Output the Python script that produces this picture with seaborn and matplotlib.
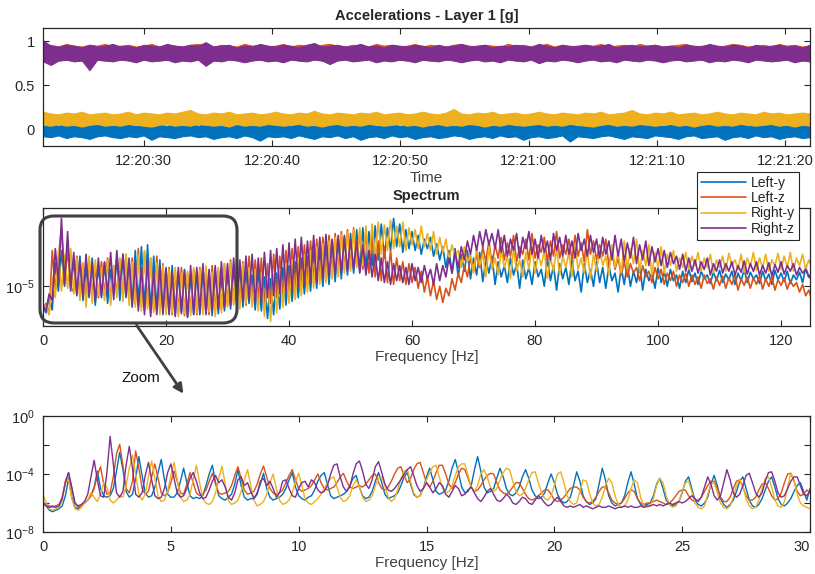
import numpy as np
import pandas as pd
import matplotlib
matplotlib.use("Agg")
import matplotlib.pyplot as plt
import matplotlib.dates as mdates
from matplotlib.patches import FancyBboxPatch, FancyArrowPatch
from matplotlib.transforms import IdentityTransform
import seaborn as sns

channels = ["Left-y", "Left-z", "Right-y", "Right-z"]
colors = {"Left-y": "#0072BD", "Left-z": "#D95319", "Right-y": "#EDB120", "Right-z": "#7E2F8E"}

# --- accelerations [g]: per-bin lower / upper edge of the signal band ---
t_start = "2017-01-01 12:20:22.15"
t_end = "2017-01-01 12:21:21.94"

acc_left_y_lo = [-0.08,-0.09,-0.07,-0.10,-0.08,-0.09,-0.11,-0.08,-0.07,-0.09,
                 -0.10,-0.08,-0.09,-0.07,-0.12,-0.08,-0.09,-0.10,-0.08,-0.07,
                 -0.09,-0.08,-0.11,-0.09,-0.08,-0.10,-0.07,-0.09,-0.13,-0.08,
                 -0.09,-0.08,-0.10,-0.07,-0.09,-0.11,-0.08,-0.09,-0.07,-0.10,
                 -0.08,-0.12,-0.09,-0.08,-0.10,-0.07,-0.09,-0.08,-0.11,-0.09,
                 -0.08,-0.10,-0.09,-0.07,-0.08,-0.11,-0.09,-0.08,-0.10,-0.07,
                 -0.09,-0.08,-0.12,-0.09,-0.08,-0.10,-0.09,-0.07,-0.14,-0.08,
                 -0.09,-0.10,-0.08,-0.07,-0.09,-0.11,-0.08,-0.09,-0.10,-0.07,
                 -0.08,-0.09,-0.11,-0.08,-0.07,-0.10,-0.09,-0.08,-0.12,-0.09,
                 -0.08,-0.10,-0.07,-0.09,-0.08,-0.11,-0.09,-0.08,-0.10,-0.09]
acc_left_y_hi = [0.05,0.06,0.04,0.07,0.05,0.04,0.06,0.05,0.07,0.04,
                 0.06,0.05,0.04,0.06,0.08,0.05,0.04,0.06,0.05,0.07,
                 0.04,0.06,0.05,0.04,0.07,0.05,0.06,0.04,0.05,0.06,
                 0.05,0.07,0.04,0.06,0.05,0.04,0.06,0.08,0.05,0.04,
                 0.06,0.05,0.07,0.04,0.05,0.06,0.04,0.05,0.07,0.06,
                 0.04,0.05,0.06,0.04,0.07,0.05,0.06,0.04,0.05,0.06,
                 0.07,0.04,0.05,0.06,0.05,0.04,0.07,0.05,0.06,0.04,
                 0.05,0.06,0.04,0.07,0.05,0.06,0.04,0.05,0.06,0.08,
                 0.04,0.05,0.06,0.05,0.04,0.07,0.05,0.06,0.04,0.05,
                 0.06,0.04,0.07,0.05,0.06,0.04,0.05,0.07,0.05,0.06]
acc_left_z_lo = [0.79,0.80,0.78,0.79,0.81,0.78,0.80,0.79,0.78,0.80,
                 0.79,0.81,0.78,0.79,0.80,0.78,0.79,0.81,0.80,0.78,
                 0.79,0.80,0.78,0.79,0.81,0.79,0.78,0.80,0.79,0.78,
                 0.80,0.79,0.81,0.78,0.79,0.80,0.78,0.79,0.80,0.81,
                 0.78,0.79,0.80,0.78,0.79,0.81,0.79,0.78,0.80,0.79,
                 0.78,0.80,0.79,0.81,0.78,0.79,0.80,0.78,0.79,0.80,
                 0.81,0.78,0.79,0.80,0.79,0.78,0.80,0.79,0.81,0.78,
                 0.79,0.80,0.78,0.79,0.80,0.81,0.78,0.79,0.80,0.79,
                 0.78,0.80,0.79,0.78,0.81,0.79,0.80,0.78,0.79,0.80,
                 0.79,0.78,0.80,0.81,0.79,0.78,0.80,0.79,0.78,0.80]
acc_left_z_hi = [0.95,0.96,0.94,0.97,0.95,0.94,0.96,0.95,0.97,0.94,
                 0.95,0.96,0.94,0.95,0.97,0.94,0.96,0.95,0.94,0.96,
                 0.97,0.95,0.94,0.96,0.95,0.94,0.97,0.95,0.96,0.94,
                 0.95,0.97,0.94,0.96,0.95,0.94,0.96,0.97,0.95,0.94,
                 0.96,0.95,0.94,0.97,0.95,0.96,0.94,0.95,0.97,0.94,
                 0.96,0.95,0.94,0.96,0.97,0.95,0.94,0.96,0.95,0.94,
                 0.97,0.95,0.96,0.94,0.95,0.97,0.94,0.96,0.95,0.94,
                 0.96,0.95,0.97,0.94,0.95,0.96,0.94,0.97,0.95,0.96,
                 0.94,0.95,0.96,0.97,0.94,0.95,0.96,0.94,0.95,0.97,
                 0.96,0.94,0.95,0.96,0.94,0.97,0.95,0.96,0.94,0.95]
acc_right_y_lo = [0.05,0.04,0.06,0.04,0.05,0.03,0.05,0.06,0.04,0.05,
                  0.04,0.06,0.05,0.04,0.03,0.05,0.06,0.04,0.05,0.04,
                  0.06,0.05,0.04,0.05,0.03,0.06,0.04,0.05,0.04,0.06,
                  0.05,0.04,0.05,0.06,0.04,0.05,0.03,0.05,0.06,0.04,
                  0.05,0.04,0.06,0.05,0.04,0.05,0.06,0.04,0.05,0.03,
                  0.05,0.06,0.04,0.05,0.04,0.06,0.05,0.03,0.05,0.04,
                  0.06,0.05,0.04,0.05,0.06,0.04,0.05,0.04,0.06,0.05,
                  0.04,0.03,0.05,0.06,0.04,0.05,0.04,0.06,0.05,0.04,
                  0.05,0.06,0.04,0.05,0.03,0.05,0.06,0.04,0.05,0.04,
                  0.06,0.05,0.04,0.05,0.06,0.04,0.05,0.03,0.05,0.04]
acc_right_y_hi = [0.20,0.18,0.17,0.19,0.18,0.20,0.17,0.18,0.19,0.17,
                  0.18,0.20,0.17,0.19,0.18,0.17,0.19,0.18,0.20,0.22,
                  0.18,0.17,0.19,0.18,0.20,0.17,0.18,0.19,0.17,0.18,
                  0.20,0.18,0.17,0.19,0.18,0.21,0.18,0.17,0.19,0.18,
                  0.17,0.19,0.18,0.20,0.17,0.18,0.19,0.17,0.18,0.20,
                  0.18,0.17,0.19,0.23,0.18,0.17,0.19,0.18,0.20,0.17,
                  0.18,0.19,0.17,0.18,0.20,0.18,0.17,0.19,0.18,0.17,
                  0.19,0.18,0.20,0.17,0.18,0.19,0.22,0.18,0.17,0.19,
                  0.18,0.20,0.17,0.18,0.19,0.17,0.18,0.20,0.18,0.17,
                  0.19,0.18,0.17,0.20,0.18,0.19,0.17,0.18,0.19,0.18]
acc_right_z_lo = [0.77,0.73,0.78,0.79,0.77,0.78,0.67,0.79,0.78,0.77,
                  0.79,0.78,0.76,0.79,0.77,0.78,0.79,0.76,0.78,0.77,
                  0.79,0.72,0.78,0.77,0.79,0.78,0.76,0.78,0.79,0.77,
                  0.78,0.76,0.79,0.78,0.77,0.79,0.78,0.74,0.78,0.79,
                  0.77,0.78,0.79,0.76,0.78,0.77,0.79,0.78,0.76,0.79,
                  0.78,0.77,0.79,0.78,0.76,0.78,0.79,0.77,0.78,0.76,
                  0.79,0.78,0.77,0.79,0.75,0.78,0.77,0.79,0.78,0.76,
                  0.78,0.79,0.77,0.78,0.76,0.79,0.78,0.77,0.79,0.78,
                  0.76,0.78,0.79,0.77,0.78,0.79,0.76,0.78,0.77,0.79,
                  0.78,0.76,0.79,0.78,0.77,0.78,0.79,0.76,0.78,0.77]
acc_right_z_hi = [1.01,0.95,0.94,0.96,0.95,0.93,0.96,0.94,0.95,0.97,
                  0.94,0.95,0.93,0.96,0.95,0.94,0.97,0.95,0.94,0.96,
                  0.95,0.99,0.94,0.95,0.96,0.93,0.95,0.94,0.97,0.95,
                  0.94,0.96,0.95,0.93,0.96,0.98,0.94,0.95,0.96,0.94,
                  0.95,0.97,0.94,0.95,0.93,0.96,0.95,0.94,0.96,0.95,
                  0.93,0.96,0.94,0.95,0.97,0.94,0.95,0.96,0.93,0.95,
                  0.94,0.96,0.95,0.94,0.97,0.95,0.93,0.96,0.94,0.95,
                  0.96,0.94,0.95,0.97,0.93,0.95,0.96,0.94,0.95,0.96,
                  0.94,0.95,0.93,0.96,0.95,0.94,0.97,0.95,0.94,0.96,
                  0.95,0.93,0.96,0.94,0.95,0.96,0.94,0.95,0.93,0.96]

# --- spectrum, 0 .. 125 Hz in 0.5 Hz bins, log10 of amplitude ---
spec_step = 0.5
spec_left_y = [-5.22,-5.28,-5.10,-5.25,-4.75,-5.05,-4.62,-5.00,-4.58,-5.05,
               -4.72,-5.10,-4.68,-5.15,-4.80,-5.12,-4.70,-5.20,-4.78,-5.10,
               -4.75,-5.18,-4.82,-5.08,-4.70,-5.15,-4.66,-5.12,-4.74,-5.22,
               -4.62,-5.20,-4.58,-5.25,-4.56,-5.28,-4.68,-5.26,-4.72,-5.30,
               -4.80,-5.28,-4.78,-5.30,-4.85,-5.27,-4.82,-5.32,-4.88,-5.29,
               -4.84,-5.30,-4.80,-5.28,-4.86,-5.31,-4.83,-5.29,-4.90,-5.26,
               -4.85,-5.24,-4.80,-5.20,-4.78,-5.22,-4.84,-5.18,-4.88,-5.25,
               -4.82,-5.26,-4.90,-5.34,-4.92,-5.30,-4.86,-5.24,-4.80,-5.20,
               -4.78,-5.16,-4.74,-5.12,-4.70,-5.08,-4.68,-5.05,-4.62,-5.02,
               -4.60,-5.00,-4.56,-4.98,-4.52,-4.95,-4.50,-4.92,-4.46,-4.88,
               -4.44,-4.86,-4.40,-4.84,-4.38,-4.82,-4.42,-4.78,-4.36,-4.72,
               -4.34,-4.70,-4.38,-4.62,-4.28,-4.58,-4.34,-4.64,-4.40,-4.60,
               -4.42,-4.62,-4.46,-4.66,-4.50,-4.60,-4.48,-4.68,-4.55,-4.72,
               -4.58,-4.80,-4.62,-4.86,-4.60,-4.90,-4.66,-4.84,-4.62,-4.92,
               -4.70,-4.88,-4.64,-4.95,-4.72,-4.86,-4.68,-4.98,-4.74,-4.90,
               -4.78,-4.96,-4.70,-4.88,-4.76,-5.02,-4.72,-4.92,-4.80,-4.98,
               -4.74,-4.90,-4.82,-5.00,-4.70,-4.94,-4.78,-5.04,-4.76,-4.92,
               -4.80,-4.98,-4.72,-4.94,-4.84,-5.06,-4.76,-4.96,-4.82,-5.00,
               -4.74,-4.96,-4.80,-5.02,-4.78,-4.94,-4.86,-5.06,-4.80,-4.98,
               -4.76,-5.00,-4.84,-4.96,-4.78,-5.04,-4.82,-4.94,-4.86,-5.02,
               -4.80,-4.96,-4.84,-5.00,-4.82,-4.94,-4.88,-5.02,-4.84,-4.96,
               -4.82,-4.95,-4.86,-4.98,-4.84,-4.92,-4.88,-4.97,-4.85,-4.94,
               -4.83,-4.96,-4.87,-4.93,-4.84,-4.98,-4.86,-4.94,-4.82,-4.96,
               -4.85,-4.92,-4.88,-4.97,-4.84,-4.94,-4.87,-4.98,-4.83,-4.93,
               -4.86,-4.95,-4.84,-4.97,-4.88,-4.93,-4.85,-4.96,-4.80,-4.90,
               -4.92]
spec_left_z = [-5.24,-5.18,-5.30,-4.62,-5.05,-4.70,-4.39,-4.95,-4.58,-5.00,
               -5.06,-4.68,-5.10,-4.76,-5.14,-4.72,-5.08,-4.80,-5.12,-4.74,
               -5.10,-4.70,-5.15,-4.78,-5.08,-4.72,-5.12,-4.66,-5.16,-4.70,
               -5.18,-4.60,-5.22,-4.64,-5.20,-4.70,-5.26,-4.68,-5.24,-4.76,
               -5.26,-4.80,-5.30,-4.84,-5.28,-4.80,-5.31,-4.86,-5.27,-4.82,
               -5.30,-4.80,-5.28,-4.84,-5.30,-4.78,-5.26,-4.82,-5.24,-4.76,
               -5.20,-4.72,-5.18,-4.70,-5.16,-4.74,-5.20,-4.68,-5.18,-4.72,
               -5.14,-4.70,-5.20,-4.76,-5.18,-4.66,-5.12,-4.68,-5.10,-4.62,
               -5.06,-4.60,-5.04,-4.58,-5.00,-4.56,-4.96,-4.52,-4.94,-4.50,
               -4.92,-4.48,-4.88,-4.46,-4.86,-4.44,-4.84,-4.42,-4.82,-4.40,
               -4.80,-4.38,-4.78,-4.42,-4.82,-4.40,-4.86,-4.44,-4.90,-4.52,
               -4.94,-4.58,-4.96,-4.62,-4.98,-4.70,-4.94,-4.74,-4.98,-4.76,
               -4.96,-4.80,-5.02,-4.84,-5.06,-4.90,-5.10,-4.94,-5.14,-5.00,
               -5.17,-5.02,-5.10,-4.92,-5.04,-4.86,-4.96,-4.78,-4.90,-4.70,
               -4.84,-4.66,-4.80,-4.58,-4.74,-4.52,-4.78,-4.56,-4.70,-4.48,
               -4.72,-4.54,-4.68,-4.46,-4.74,-4.58,-4.66,-4.50,-4.72,-4.44,
               -4.70,-4.56,-4.64,-4.48,-4.74,-4.52,-4.68,-4.42,-4.70,-4.56,
               -4.66,-4.50,-4.72,-4.46,-4.68,-4.54,-4.74,-4.40,-4.66,-4.52,
               -4.72,-4.56,-4.68,-4.50,-4.78,-4.62,-4.82,-4.70,-4.88,-4.74,
               -4.90,-4.76,-4.86,-4.80,-4.94,-4.78,-4.90,-4.84,-4.96,-4.80,
               -4.92,-4.82,-4.98,-4.86,-4.94,-4.84,-5.00,-4.88,-4.96,-4.86,
               -5.00,-4.88,-4.98,-4.90,-5.02,-4.88,-4.97,-4.92,-5.03,-4.90,
               -4.99,-4.89,-5.02,-4.91,-4.98,-4.88,-5.04,-4.92,-4.99,-4.90,
               -5.02,-4.91,-4.98,-4.89,-5.03,-4.92,-5.00,-4.90,-5.04,-4.93,
               -4.99,-4.91,-5.03,-4.94,-5.00,-4.96,-5.06,-4.98,-5.10,-5.04,
               -5.14]
spec_right_y = [-5.25,-5.20,-5.30,-4.90,-5.12,-4.62,-5.05,-4.66,-5.02,-4.60,
                -5.08,-4.70,-5.15,-4.75,-5.22,-4.68,-5.18,-4.72,-5.10,-4.80,
                -5.15,-4.72,-5.20,-4.78,-5.12,-4.70,-5.16,-4.66,-5.20,-4.74,
                -5.22,-4.66,-5.26,-4.62,-5.24,-4.70,-5.28,-4.75,-5.30,-4.78,
                -5.30,-4.82,-5.28,-4.80,-5.32,-4.86,-5.29,-4.84,-5.31,-4.80,
                -5.28,-4.82,-5.30,-4.78,-5.27,-4.85,-5.32,-4.80,-5.28,-4.76,
                -5.22,-4.74,-5.20,-4.72,-5.24,-4.76,-5.18,-4.80,-5.22,-4.82,
                -5.26,-4.86,-5.32,-4.90,-5.37,-4.88,-5.28,-4.82,-5.22,-4.76,
                -5.18,-4.72,-5.14,-4.70,-5.10,-4.66,-5.06,-4.62,-5.02,-4.58,
                -4.98,-4.55,-4.96,-4.52,-4.92,-4.48,-4.90,-4.45,-4.86,-4.42,
                -4.84,-4.40,-4.80,-4.38,-4.78,-4.36,-4.74,-4.34,-4.70,-4.32,
                -4.66,-4.35,-4.62,-4.30,-4.60,-4.36,-4.58,-4.32,-4.62,-4.38,
                -4.56,-4.40,-4.60,-4.36,-4.58,-4.44,-4.62,-4.42,-4.66,-4.48,
                -4.64,-4.50,-4.72,-4.56,-4.68,-4.62,-4.80,-4.58,-4.74,-4.66,
                -4.86,-4.60,-4.78,-4.66,-4.90,-4.58,-4.82,-4.70,-4.88,-4.62,
                -4.80,-4.68,-4.92,-4.60,-4.84,-4.72,-4.90,-4.64,-4.82,-4.58,
                -4.86,-4.66,-4.78,-4.62,-4.92,-4.70,-4.84,-4.60,-4.88,-4.68,
                -4.80,-4.64,-4.90,-4.56,-4.82,-4.70,-4.86,-4.62,-4.92,-4.66,
                -4.84,-4.60,-4.78,-4.68,-4.88,-4.56,-4.80,-4.64,-4.86,-4.52,
                -4.82,-4.60,-4.76,-4.50,-4.84,-4.62,-4.78,-4.56,-4.88,-4.64,
                -4.80,-4.58,-4.86,-4.66,-4.78,-4.62,-4.84,-4.70,-4.80,-4.64,
                -4.82,-4.68,-4.78,-4.64,-4.84,-4.70,-4.80,-4.66,-4.86,-4.72,
                -4.80,-4.68,-4.84,-4.65,-4.78,-4.72,-4.82,-4.66,-4.85,-4.70,
                -4.79,-4.64,-4.83,-4.70,-4.80,-4.66,-4.84,-4.72,-4.78,-4.65,
                -4.82,-4.68,-4.80,-4.64,-4.84,-4.70,-4.78,-4.66,-4.82,-4.72,
                -4.80]
spec_right_z = [-5.20,-5.26,-5.08,-5.15,-4.60,-4.95,-4.28,-4.98,-4.42,-5.02,
                -4.64,-5.08,-4.72,-5.12,-4.66,-5.10,-4.76,-5.16,-4.70,-5.12,
                -4.74,-5.08,-4.64,-5.14,-4.62,-5.02,-4.66,-5.10,-4.70,-5.20,
                -4.74,-5.26,-4.80,-5.30,-4.72,-5.32,-4.84,-5.30,-4.78,-5.28,
                -4.82,-5.30,-4.86,-5.32,-4.80,-5.29,-4.84,-5.33,-4.78,-5.30,
                -4.80,-5.28,-4.76,-5.30,-4.82,-5.26,-4.78,-5.24,-4.74,-5.22,
                -4.76,-5.20,-4.70,-5.18,-4.72,-5.16,-4.68,-5.14,-4.66,-5.18,
                -4.70,-5.16,-4.64,-5.12,-4.62,-5.10,-4.60,-5.08,-4.56,-5.06,
                -4.54,-5.04,-4.50,-5.00,-4.48,-4.98,-4.52,-4.94,-4.46,-4.96,
                -4.48,-4.92,-4.45,-4.90,-4.50,-4.88,-4.46,-4.86,-4.48,-4.84,
                -4.50,-4.82,-4.52,-4.86,-4.56,-4.88,-4.62,-4.90,-4.66,-4.94,
                -4.70,-4.96,-4.74,-4.98,-4.76,-4.94,-4.78,-4.96,-4.80,-4.98,
                -4.76,-4.94,-4.80,-4.96,-4.78,-4.92,-4.82,-4.98,-4.76,-4.94,
                -4.78,-4.90,-4.70,-4.86,-4.64,-4.80,-4.58,-4.72,-4.52,-4.66,
                -4.46,-4.62,-4.42,-4.58,-4.40,-4.56,-4.44,-4.60,-4.40,-4.64,
                -4.46,-4.68,-4.50,-4.62,-4.44,-4.70,-4.48,-4.60,-4.42,-4.66,
                -4.50,-4.70,-4.46,-4.64,-4.52,-4.72,-4.44,-4.62,-4.48,-4.68,
                -4.46,-4.66,-4.52,-4.70,-4.44,-4.62,-4.50,-4.68,-4.46,-4.64,
                -4.50,-4.70,-4.48,-4.66,-4.52,-4.72,-4.46,-4.68,-4.50,-4.74,
                -4.54,-4.70,-4.48,-4.76,-4.56,-4.72,-4.52,-4.78,-4.58,-4.74,
                -4.60,-4.78,-4.62,-4.80,-4.64,-4.76,-4.68,-4.82,-4.66,-4.84,
                -4.70,-4.84,-4.72,-4.86,-4.74,-4.82,-4.70,-4.88,-4.76,-4.84,
                -4.72,-4.86,-4.76,-4.84,-4.74,-4.88,-4.78,-4.85,-4.73,-4.87,
                -4.76,-4.84,-4.74,-4.88,-4.78,-4.86,-4.75,-4.89,-4.77,-4.85,
                -4.74,-4.87,-4.78,-4.84,-4.76,-4.88,-4.80,-4.86,-4.82,-4.90,
                -4.86]

# --- zoomed spectrum, 0 .. 30 Hz in 0.125 Hz bins, log10 of amplitude ---
zoom_step = 0.125
zoom_left_y = [-5.9,-6.2,-6.5,-6.6,-6.5,-6.4,-6.2,-5.5,
               -4.3,-5.6,-6.3,-6.4,-6.2,-6.0,-5.8,-5.5,
               -4.9,-3.8,-5.0,-5.5,-5.6,-5.5,-5.0,-3.8,
               -2.5,-3.7,-5.2,-5.6,-5.4,-4.3,-2.8,-4.1,
               -5.3,-5.6,-5.5,-4.9,-3.9,-3.0,-4.4,-5.4,
               -5.6,-5.6,-5.3,-4.5,-3.6,-4.6,-5.5,-5.7,
               -5.6,-5.7,-5.5,-4.8,-4.0,-3.4,-4.6,-5.5,
               -5.7,-5.8,-5.6,-5.4,-4.7,-3.7,-4.8,-5.6,
               -5.8,-5.7,-5.7,-5.3,-4.7,-3.95,-5.0,-5.6,
               -5.8,-5.7,-5.6,-5.4,-5.0,-4.4,-3.9,-4.9,
               -5.5,-5.7,-5.8,-5.6,-5.5,-5.1,-4.5,-4.1,
               -3.9,-4.7,-5.5,-5.7,-5.6,-5.5,-5.4,-5.2,
               -4.8,-4.3,-4.1,-4.9,-5.5,-5.7,-5.6,-5.2,
               -4.5,-3.9,-4.6,-5.4,-5.7,-5.6,-5.5,-5.3,
               -4.8,-4.2,-3.9,-4.7,-5.4,-5.6,-5.5,-5.0,
               -4.2,-3.6,-4.4,-5.2,-5.4,-5.3,-5.1,-4.5,
               -3.6,-3.0,-3.9,-4.9,-5.3,-5.2,-4.8,-3.7,
               -2.8,-3.8,-4.9,-5.3,-5.2,-5.0,-4.3,-3.6,
               -4.2,-5.0,-5.4,-5.5,-5.3,-4.9,-4.2,-3.7,
               -4.3,-5.1,-5.5,-5.7,-5.6,-5.3,-4.6,-4.0,
               -4.6,-5.4,-5.8,-6.0,-5.9,-5.6,-4.8,-3.85,
               -4.5,-5.5,-5.9,-6.1,-6.0,-5.7,-4.7,-3.6,
               -4.4,-5.5,-6.0,-6.2,-6.1,-6.0,-5.5,-4.6,
               -3.85,-4.7,-5.7,-6.1,-6.2,-6.1,-6.0,-5.5,
               -4.7,-4.3,-5.0,-5.8,-6.1,-6.2,-6.1,-5.9,
               -5.3,-4.5,-4.2,-5.0,-5.8,-6.1,-6.2,-6.0,
               -5.6,-4.7,-4.1,-4.8,-5.7,-6.1,-6.3,-6.1,
               -5.8,-5.2,-4.5,-4.2,-5.0,-5.8,-6.2,-6.3,
               -6.1,-5.7,-5.1,-4.5,-4.2,-4.9,-5.7,-6.1,
               -6.2,-6.0,-5.7,-5.2,-4.8,-4.6,-5.2,-5.8,
               -5.0]
zoom_left_z = [-6.0,-6.1,-6.2,-6.3,-6.2,-6.1,-5.6,-4.5,
               -3.9,-5.0,-6.0,-6.3,-6.2,-6.0,-5.8,-5.5,
               -5.0,-4.1,-3.5,-4.7,-5.4,-5.3,-4.2,-2.6,
               -1.95,-3.4,-5.0,-5.3,-4.5,-2.4,-3.6,-5.0,
               -5.4,-5.2,-4.2,-3.3,-4.3,-5.3,-5.5,-5.3,
               -4.6,-3.8,-4.5,-5.3,-5.4,-4.7,-3.9,-4.6,
               -5.3,-5.5,-5.4,-5.1,-4.5,-3.95,-4.7,-5.3,
               -5.4,-5.3,-5.2,-4.8,-4.1,-3.5,-4.3,-5.1,
               -5.4,-5.3,-5.2,-4.7,-4.0,-3.45,-4.2,-5.0,
               -5.3,-5.4,-5.3,-5.1,-4.6,-4.1,-3.7,-4.4,
               -5.0,-5.2,-5.1,-5.0,-4.8,-4.4,-4.0,-4.6,
               -5.0,-5.1,-5.0,-4.9,-4.6,-4.2,-3.95,-4.5,
               -4.9,-5.0,-4.9,-4.8,-4.9,-4.7,-4.4,-4.1,
               -4.0,-4.6,-5.0,-5.1,-4.9,-4.5,-4.0,-3.6,
               -3.5,-4.1,-4.6,-4.3,-3.7,-3.3,-3.2,-3.9,
               -4.6,-4.9,-4.5,-3.9,-3.4,-3.4,-4.0,-4.7,
               -5.0,-4.6,-4.0,-3.6,-3.7,-4.3,-4.9,-5.2,
               -5.1,-4.8,-4.4,-4.1,-3.95,-4.0,-4.6,-5.1,
               -5.3,-5.4,-5.2,-4.9,-4.6,-4.6,-5.0,-5.4,
               -5.7,-5.8,-5.7,-5.5,-5.3,-5.1,-5.1,-5.4,
               -5.8,-5.9,-5.8,-5.6,-5.3,-5.0,-4.9,-4.9,
               -5.1,-5.6,-5.9,-6.0,-5.9,-5.6,-5.2,-4.9,
               -4.9,-5.3,-5.8,-6.0,-6.1,-6.0,-5.7,-5.3,
               -5.1,-5.2,-5.7,-6.0,-6.1,-6.0,-6.0,-5.9,
               -5.8,-5.9,-6.0,-6.1,-6.0,-5.8,-5.5,-5.2,
               -5.1,-5.1,-5.5,-5.8,-5.9,-5.8,-5.6,-5.2,
               -4.8,-4.5,-4.5,-5.0,-5.6,-5.9,-5.9,-5.6,
               -5.0,-4.5,-4.4,-4.9,-5.5,-5.8,-5.8,-5.6,
               -5.1,-4.7,-4.6,-5.0,-5.5,-5.8,-5.7,-5.3,
               -4.6,-4.0,-3.95,-4.5,-5.2,-5.5,-5.4,-5.1,
               -5.3]
zoom_right_y = [-5.4,-6.0,-6.4,-6.5,-6.4,-6.3,-5.8,-4.6,
                -4.4,-5.7,-6.4,-6.5,-6.3,-6.0,-5.8,-5.3,
                -5.6,-5.9,-5.4,-4.6,-4.9,-5.8,-6.0,-5.8,
                -5.5,-5.6,-4.8,-3.6,-2.7,-4.0,-5.4,-5.8,
                -5.4,-4.2,-3.1,-4.3,-5.5,-5.9,-5.8,-5.2,
                -4.1,-3.2,-4.4,-5.6,-5.9,-5.8,-5.4,-4.4,
                -3.4,-4.6,-5.7,-6.0,-6.1,-5.9,-5.3,-4.3,
                -3.45,-4.7,-5.8,-6.1,-6.0,-5.8,-5.2,-4.4,
                -3.7,-4.8,-5.8,-6.2,-6.1,-5.9,-5.4,-4.6,
                -4.0,-5.0,-5.8,-6.1,-6.0,-5.8,-5.3,-4.5,
                -3.95,-4.8,-5.7,-6.0,-6.1,-5.9,-5.7,-5.4,
                -5.0,-4.6,-4.3,-4.2,-4.9,-5.6,-5.9,-5.8,
                -5.5,-4.8,-4.4,-4.9,-5.6,-5.9,-5.8,-5.5,
                -4.8,-4.3,-4.2,-4.8,-5.6,-5.9,-5.7,-5.1,
                -4.3,-3.8,-3.7,-4.5,-5.3,-5.6,-5.5,-5.0,
                -4.4,-3.9,-3.5,-3.4,-4.2,-5.0,-5.3,-5.2,
                -4.8,-4.1,-3.5,-3.3,-3.3,-4.1,-4.9,-5.2,
                -4.8,-4.0,-3.7,-4.2,-4.9,-5.2,-5.0,-4.4,
                -3.9,-3.6,-3.7,-4.5,-5.2,-5.5,-5.4,-5.0,
                -4.4,-3.9,-3.85,-4.6,-5.3,-5.7,-5.8,-5.5,
                -4.8,-4.0,-3.85,-4.6,-5.5,-5.9,-6.1,-6.0,
                -5.2,-4.4,-4.5,-5.3,-6.0,-6.2,-6.1,-5.6,
                -4.8,-4.3,-4.6,-5.5,-6.1,-6.3,-6.2,-5.8,
                -5.0,-4.4,-4.6,-5.6,-6.2,-6.3,-6.2,-5.7,
                -4.8,-4.3,-4.6,-5.5,-6.1,-6.3,-6.2,-5.9,
                -5.2,-4.6,-4.5,-5.2,-6.0,-6.3,-6.4,-6.2,
                -5.4,-4.7,-4.6,-5.3,-6.0,-6.3,-6.4,-6.2,
                -5.6,-4.8,-4.4,-4.8,-5.7,-6.2,-6.4,-6.3,
                -5.8,-5.0,-4.3,-4.2,-4.9,-5.8,-6.2,-6.3,
                -5.9,-4.9,-3.95,-4.4,-5.4,-6.0,-6.2,-6.3,
                -6.4]
zoom_right_z = [-6.1,-6.2,-6.3,-6.2,-6.3,-6.2,-5.7,-4.6,
                -3.9,-4.9,-6.0,-6.2,-6.1,-5.9,-5.4,-4.2,
                -3.05,-4.4,-5.5,-5.6,-3.9,-1.4,-3.3,-5.3,
                -5.6,-5.2,-3.4,-2.1,-3.6,-5.4,-5.6,-5.3,
                -4.1,-3.2,-4.4,-5.5,-5.7,-5.6,-5.0,-3.9,
                -3.3,-4.3,-5.3,-5.6,-5.5,-5.0,-4.3,-3.9,
                -4.5,-5.3,-5.7,-5.6,-5.1,-4.5,-4.1,-4.6,
                -4.4,-4.9,-5.6,-5.8,-5.3,-4.4,-4.2,-4.8,
                -4.6,-5.2,-5.7,-5.4,-4.5,-4.3,-4.8,-4.5,
                -5.0,-5.6,-5.3,-4.5,-4.4,-5.0,-5.5,-5.6,
                -5.0,-4.6,-4.5,-4.9,-4.4,-4.6,-5.1,-5.3,
                -5.2,-4.8,-4.0,-3.4,-3.3,-4.2,-4.9,-5.2,
                -4.9,-4.0,-3.3,-3.1,-3.8,-4.7,-5.0,-4.4,
                -3.5,-3.15,-3.9,-4.7,-5.1,-5.2,-5.0,-4.7,
                -4.4,-4.0,-3.7,-3.5,-4.1,-4.8,-5.2,-5.0,
                -4.6,-4.9,-5.3,-5.0,-4.6,-4.8,-5.4,-5.6,
                -5.2,-4.8,-5.0,-5.5,-5.4,-5.1,-4.9,-5.3,
                -5.7,-5.9,-5.6,-5.2,-5.0,-5.4,-5.8,-5.9,
                -5.7,-5.4,-5.6,-6.0,-6.1,-5.9,-5.6,-5.7,
                -6.0,-6.1,-5.8,-5.5,-5.7,-6.0,-6.2,-6.1,
                -5.8,-5.6,-5.9,-6.2,-6.3,-6.2,-6.3,-6.2,
                -6.1,-6.3,-6.2,-6.3,-6.4,-6.3,-6.2,-6.3,
                -6.3,-6.2,-6.3,-6.4,-6.3,-6.3,-6.2,-6.3,
                -6.2,-6.3,-6.3,-6.2,-6.3,-6.2,-6.2,-6.1,
                -6.2,-6.1,-6.2,-6.1,-6.0,-6.1,-6.0,-5.9,
                -6.0,-5.9,-5.7,-5.5,-5.7,-5.9,-5.6,-4.9,
                -4.2,-4.7,-5.5,-5.8,-5.5,-4.6,-3.7,-4.4,
                -5.3,-5.6,-5.4,-4.8,-4.1,-3.95,-4.6,-5.3,
                -5.6,-5.3,-4.5,-3.9,-3.85,-4.5,-5.3,-5.6,
                -5.5,-5.0,-4.5,-4.2,-4.2,-4.8,-5.4,-5.5,
                -5.2]

acc_bands = {"Left-y": (acc_left_y_lo, acc_left_y_hi),
             "Left-z": (acc_left_z_lo, acc_left_z_hi),
             "Right-y": (acc_right_y_lo, acc_right_y_hi),
             "Right-z": (acc_right_z_lo, acc_right_z_hi)}
spec_series = {"Left-y": spec_left_y, "Left-z": spec_left_z,
               "Right-y": spec_right_y, "Right-z": spec_right_z}
zoom_series = {"Left-y": zoom_left_y, "Left-z": zoom_left_z,
               "Right-y": zoom_right_y, "Right-z": zoom_right_z}


def long_frame(series, step):
    rows = []
    for ch in channels:
        vals = np.power(10.0, np.array(series[ch]))
        f = np.arange(len(vals)) * step
        rows.append(pd.DataFrame({"freq": f, "amp": vals, "channel": ch}))
    return pd.concat(rows, ignore_index=True)


sns.set_theme(style="ticks")
plt.rcParams["font.family"] = ["Liberation Sans", "DejaVu Sans"]
plt.rcParams["mathtext.fontset"] = "custom"
plt.rcParams["mathtext.rm"] = "Liberation Sans"
plt.rcParams["mathtext.it"] = "Liberation Sans:italic"
plt.rcParams["mathtext.default"] = "regular"

W, H = 815, 574
fig = plt.figure(figsize=(W / 100, H / 100), dpi=100)
fig.patch.set_facecolor("white")

def box(top, bottom):
    return [43 / W, (H - bottom) / H, 767 / W, (bottom - top) / H]

ax1 = fig.add_axes(box(28, 146))
ax2 = fig.add_axes(box(208, 326))
ax3 = fig.add_axes(box(416, 532))

grey = "#262626"
label_grey = "#404040"
for ax in (ax1, ax2, ax3):
    ax.tick_params(direction="in", top=True, right=True, length=4, width=0.8,
                   labelsize=10.5, colors=grey, pad=6)
    ax.tick_params(which="minor", length=0)
    for s in ax.spines.values():
        s.set_color(grey)
        s.set_linewidth(0.9)

# top: accelerations
for ch in channels:
    lo, hi = acc_bands[ch]
    t = pd.date_range(t_start, t_end, periods=len(lo))
    ax1.fill_between(t, lo, hi, color=colors[ch], lw=0.7, edgecolor=colors[ch])
ax1.set_xlim(pd.Timestamp(t_start), pd.Timestamp(t_end))
ax1.set_ylim(-0.19, 1.15)
ax1.set_yticks([0, 0.5, 1])
ax1.set_yticklabels(["0", "0.5", "1"])
ax1.xaxis.set_major_locator(mdates.SecondLocator(bysecond=[0, 10, 20, 30, 40, 50]))
ax1.xaxis.set_major_formatter(mdates.DateFormatter("%H:%M:%S"))
ax1.set_xlabel("Time", fontsize=11, color=label_grey, labelpad=2)
ax1.set_title("Accelerations - Layer 1 [g]", fontsize=10.5, fontweight="bold", pad=6)

# middle: spectrum
spec_df = long_frame(spec_series, spec_step)
sns.lineplot(data=spec_df, x="freq", y="amp", hue="channel", hue_order=channels,
             palette=colors, estimator=None, lw=1.2, ax=ax2)
ax2.set_yscale("log")
ax2.set_xlim(0, 124.7)
ax2.set_ylim(10 ** -5.42, 10 ** -4.17)
ax2.set_yticks([1e-5])
ax2.set_yticklabels([r"$10^{-5}$"])
ax2.yaxis.set_minor_locator(matplotlib.ticker.NullLocator())
ax2.set_xticks([0, 20, 40, 60, 80, 100, 120])
ax2.set_xlabel("Frequency [Hz]", fontsize=11, color=label_grey, labelpad=1)
ax2.set_ylabel("")
ax2.set_title("Spectrum", fontsize=10.5, fontweight="bold", pad=6)
leg = ax2.legend(loc="upper right", bbox_to_anchor=(0.9857, 1.305), fontsize=10,
                 frameon=True, fancybox=False, edgecolor=grey, framealpha=1,
                 handlelength=3.2, handletextpad=0.35, labelspacing=0.08,
                 borderpad=0.3, borderaxespad=0)
leg.get_frame().set_linewidth(0.8)
for line in leg.get_lines():
    line.set_linewidth(1.2)

# bottom: zoomed spectrum
zoom_df = long_frame(zoom_series, zoom_step)
sns.lineplot(data=zoom_df, x="freq", y="amp", hue="channel", hue_order=channels,
             palette=colors, estimator=None, lw=1.0, ax=ax3, legend=False)
ax3.set_yscale("log")
ax3.set_xlim(0, 30)
ax3.set_ylim(1e-8, 1e0)
ax3.yaxis.set_major_locator(matplotlib.ticker.FixedLocator([1e-8, 1e-6, 1e-4, 1e-2, 1e0]))
ax3.yaxis.set_major_formatter(matplotlib.ticker.FixedFormatter(
    [r"$10^{-8}$", "", r"$10^{-4}$", "", r"$10^{0}$"]))
ax3.yaxis.set_minor_locator(matplotlib.ticker.NullLocator())
ax3.set_xticks([0, 5, 10, 15, 20, 25, 30])
ax3.set_xlabel("Frequency [Hz]", fontsize=11, color=label_grey, labelpad=1)
ax3.set_ylabel("")
ax3.xaxis.get_major_ticks()[-1].label1.set_horizontalalignment("right")

# zoom callout
callout = FancyBboxPatch((40, H - 323), 197, 107, boxstyle="round,pad=0,rounding_size=14",
                         transform=IdentityTransform(), fill=False, lw=2.2,
                         edgecolor="#404040", zorder=10)
fig.add_artist(callout)
arrow = FancyArrowPatch((135, H - 323), (185, H - 396), arrowstyle="-|>",
                        mutation_scale=14, lw=2.0, color="#404040",
                        transform=IdentityTransform(), zorder=10)
fig.add_artist(arrow)
fig.text(141 / W, 1 - 378 / H, "Zoom", ha="center", va="center", fontsize=11, color="#111111")

fig.savefig("out.png", dpi=100)
